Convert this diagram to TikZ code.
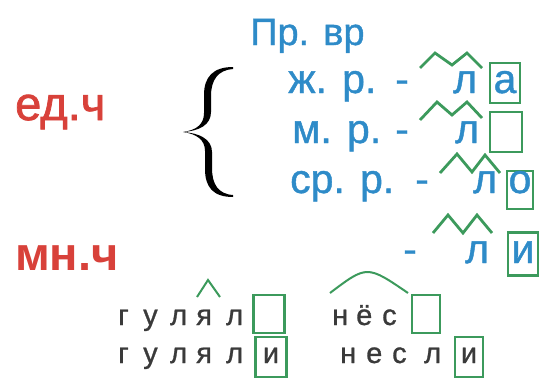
\documentclass[tikz,border=0pt]{standalone}
\usepackage{fontspec}
\setmainfont{Liberation Sans}
\newfontfamily\medf[FakeBold=1]{Liberation Sans}
\newfontfamily\semif[FakeBold=1.6]{Liberation Sans}
\definecolor{blu}{HTML}{2E8BC8}
\definecolor{rd}{HTML}{D8413A}
\definecolor{grn}{HTML}{3C9A5C}
\definecolor{drk}{HTML}{3A3A3A}
\begin{document}
\begin{tikzpicture}[x=1pt,y=-1pt,
  txt/.style={inner sep=0pt, anchor=base west},
  bl/.style={txt, text=blu, font=\medf\fontsize{41}{43}\selectfont},
  red/.style={txt, text=rd},
  dk/.style={txt, text=drk, font=\medf\fontsize{29}{30}\selectfont},
  zig/.style={draw=grn, line width=2.8pt, line join=miter},
  gbox/.style={draw=grn, line width=2.2pt, inner sep=0pt, minimum width=30pt, minimum height=40pt}
]
\useasboundingbox (0,0) rectangle (544,378);

% red labels
\node[red, font=\semif\fontsize{47}{50}\selectfont] (ed) at (15,120) {ед.ч};
\node[red, font=\fontsize{47}{50}\selectfont\bfseries] (mn) at (15,270) {мн.ч};

% brace
\fill[black] (233,67) .. controls (213,67) and (204,77) .. (204,95) -- (204,113)
  .. controls (204,124) and (197,130) .. (183,132)
  .. controls (199,131) and (211,125) .. (211,112) -- (211,96)
  .. controls (211,80) and (218,70) .. (233,69) -- cycle;
\fill[black] (233,197) .. controls (213,197) and (205,187) .. (205,169) -- (205,151)
  .. controls (205,140) and (197,134) .. (183,132)
  .. controls (199,133) and (212,139) .. (212,152) -- (212,168)
  .. controls (212,184) and (218,194) .. (233,195) -- cycle;

% blue block
\node[bl, font=\medf\fontsize{38}{40}\selectfont] (pr) at (250,45) {Пр. вр};

\node[bl] (zh) at (288,93) {ж. р.};
\node[bl] (d1) at (395,93) {-};
\node[bl] (l1) at (453,93) {л};
\node[gbox] (b1) at (505,83) {};
\node[bl, anchor=base] (a1) at (505,93) {а};
\draw[zig] (420,68) -- (435,53) -- (452,65) -- (467,53) -- (482,68);

\node[bl] (m) at (292,143) {м. р.};
\node[bl] (d2) at (395,143) {-};
\node[bl] (l2) at (455,143) {л};
\node[gbox, minimum width=32pt] (b2) at (506,132) {};
\draw[zig] (420,120) -- (437,102) -- (452,115) -- (467,102) -- (482,118);

\node[bl] (sr) at (290,193) {ср. р.};
\node[bl] (d3) at (415,193) {-};
\node[bl] (l3) at (473,193) {л};
\node[gbox, minimum width=26pt, minimum height=38pt] (b3) at (520,190) {};
\node[bl, anchor=base] (o3) at (520,193) {о};
\draw[zig] (440,173) -- (457,154) -- (472,172) -- (485,155) -- (500,173);

\node[bl] (d4) at (403,263) {-};
\node[bl] (l4) at (465,263) {л};
\node[gbox, minimum height=43pt] (b4) at (523,254) {};
\node[bl, anchor=base] (i4) at (523,263) {и};
\draw[zig] (433,233) -- (448,215) -- (463,233) -- (477,215) -- (492,233);

% bottom words
\node[dk] (g1) at (118,325) {г};
\node[dk] (u1) at (143,325) {у};
\node[dk] (la1) at (170,325) {л};
\node[dk] (ya1) at (196,325) {я};
\node[dk] (lb1) at (226,325) {л};
\node[gbox, minimum width=31pt, minimum height=38pt] (bb1) at (269,314) {};
\draw[zig, line width=2pt] (197,297) -- (208,280) -- (220,297);

\node[dk] (g2) at (118,363) {г};
\node[dk] (u2) at (143,363) {у};
\node[dk] (la2) at (170,363) {л};
\node[dk] (ya2) at (196,363) {я};
\node[dk] (lb2) at (226,363) {л};
\node[gbox, minimum width=31pt, minimum height=40pt] (bb2) at (271,357) {};
\node[dk, anchor=base] (i2) at (271,363) {и};

\node[dk] (n1) at (332,325) {н};
\node[dk] (yo1) at (356,325) {ё};
\node[dk] (s1) at (382,325) {с};
\node[gbox, minimum width=28pt, minimum height=38pt] (bn1) at (426,314) {};
\draw[draw=grn, line width=2pt] (330,293) .. controls (367,265) .. (408,293);

\node[dk] (n2) at (340,363) {н};
\node[dk] (e2) at (366,363) {е};
\node[dk] (s2) at (392,363) {с};
\node[dk] (l2b) at (424,363) {л};
\node[gbox, minimum width=28pt, minimum height=40pt] (bn2) at (469,357) {};
\node[dk, anchor=base] (i3) at (469,363) {и};
\end{tikzpicture}
\end{document}
